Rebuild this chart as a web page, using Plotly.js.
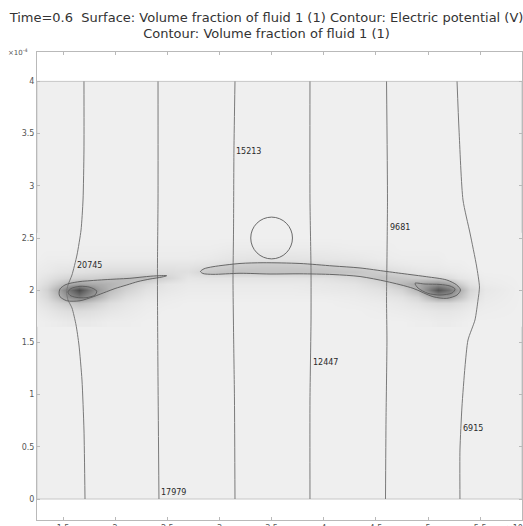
<!DOCTYPE html>
<html>
<head>
<meta charset="utf-8">
<script src="https://cdn.plot.ly/plotly-3.0.1.min.js"></script>
<style>
  html, body { margin: 0; padding: 0; background: #ffffff; }
  #chart { width: 523px; height: 526px; }
</style>
</head>
<body>
<div id="chart"></div>
<script>
// ---- Domain of the model (x10^-4 m) ----
const domainX = [1.25, 5.9008];
const domainY = [0, 4];

// ---- Surface: volume fraction of fluid 1 (coarse grid, 0..1) ----
const vfGridX = [1.25, 1.35, 1.45, 1.55, 1.65, 1.75, 1.85, 1.95, 2.1, 2.3, 2.5, 2.7, 2.9, 3.1,
                 3.4, 3.7, 4.0, 4.3, 4.55, 4.75, 4.9, 5.0, 5.1, 5.2, 5.3, 5.4, 5.55, 5.9];
const vfGridY = [1.7, 1.8, 1.88, 1.94, 2.0, 2.06, 2.12, 2.18, 2.24, 2.3, 2.4, 2.5];
const vfSurface = [
  [0,0.01,0.02,0.03,0.03,0.03,0.02,0.01,0.01,0,0,0,0,0,0,0,0,0,0,0,0.01,0.01,0.02,0.02,0.01,0,0,0],
  [0.02,0.04,0.07,0.09,0.1,0.09,0.07,0.05,0.03,0.01,0,0,0,0,0,0,0,0,0.01,0.02,0.03,0.04,0.05,0.05,0.04,0.02,0.01,0],
  [0.04,0.08,0.14,0.2,0.24,0.2,0.14,0.09,0.05,0.02,0.01,0,0,0,0,0,0,0.01,0.02,0.04,0.07,0.1,0.12,0.12,0.09,0.05,0.02,0],
  [0.06,0.12,0.26,0.45,0.6,0.45,0.3,0.18,0.09,0.04,0.02,0.01,0.01,0.01,0.01,0.01,0.01,0.02,0.04,0.07,0.14,0.28,0.42,0.4,0.25,0.1,0.03,0],
  [0.07,0.15,0.34,0.6,0.88,0.62,0.38,0.26,0.15,0.07,0.04,0.02,0.02,0.02,0.02,0.02,0.03,0.04,0.07,0.14,0.3,0.55,0.82,0.65,0.35,0.13,0.04,0],
  [0.05,0.1,0.2,0.3,0.36,0.33,0.3,0.26,0.2,0.11,0.05,0.03,0.03,0.03,0.03,0.03,0.04,0.06,0.12,0.24,0.33,0.4,0.45,0.35,0.18,0.07,0.02,0],
  [0.03,0.06,0.1,0.13,0.15,0.16,0.17,0.19,0.22,0.22,0.14,0.05,0.06,0.06,0.06,0.06,0.07,0.11,0.18,0.15,0.12,0.12,0.11,0.09,0.05,0.03,0.01,0],
  [0.02,0.03,0.05,0.06,0.07,0.08,0.09,0.1,0.1,0.1,0.09,0.08,0.15,0.18,0.18,0.18,0.18,0.16,0.11,0.07,0.05,0.04,0.04,0.03,0.02,0.01,0,0],
  [0.01,0.02,0.03,0.03,0.04,0.04,0.04,0.05,0.05,0.05,0.05,0.05,0.07,0.11,0.13,0.13,0.12,0.09,0.05,0.03,0.02,0.02,0.02,0.01,0.01,0,0,0],
  [0,0.01,0.01,0.01,0.02,0.02,0.02,0.02,0.02,0.02,0.02,0.02,0.03,0.05,0.06,0.06,0.05,0.04,0.02,0.01,0.01,0.01,0.01,0,0,0,0,0],
  [0,0,0,0,0.01,0.01,0.01,0.01,0.01,0.01,0.01,0.01,0.01,0.02,0.02,0.02,0.02,0.01,0.01,0,0,0,0,0,0,0,0,0],
  [0,0,0,0,0,0,0,0,0,0,0,0,0,0,0,0,0,0,0,0,0,0,0,0,0,0,0,0]
];

// ---- Contour: volume fraction of fluid 1 ----
const dropCenter = [3.5, 2.5];
const dropRadius = 0.2;

const leftOuterX = [1.462,1.471,1.519,1.567,1.663,1.759,1.903,2.015,2.142,2.238,2.366,2.494,2.449,2.334,2.219,2.111,1.999,1.919,1.791,1.663,1.536,1.471,1.462];
const leftOuterY = [1.970,2.012,2.050,2.066,2.083,2.091,2.101,2.107,2.114,2.124,2.136,2.139,2.126,2.107,2.083,2.050,2.016,1.986,1.938,1.899,1.899,1.938,1.970];
const leftInnerX = [1.548,1.577,1.663,1.759,1.823,1.807,1.721,1.625,1.567,1.548];
const leftInnerY = [1.983,2.016,2.037,2.028,1.992,1.954,1.928,1.932,1.951,1.983];

const rightOuterX = [2.818,2.852,2.938,3.197,3.418,3.772,4.089,4.348,4.604,4.827,4.987,5.179,5.275,5.311,5.278,5.179,5.047,4.856,4.604,4.348,4.089,3.772,3.485,3.197,2.938,2.842,2.818];
const rightOuterY = [2.179,2.205,2.225,2.256,2.263,2.256,2.232,2.213,2.179,2.150,2.129,2.098,2.050,2.002,1.954,1.922,1.938,2.018,2.083,2.131,2.150,2.157,2.155,2.162,2.152,2.160,2.179];
const rightInnerX = [4.875,4.971,5.115,5.211,5.259,5.230,5.115,4.999,4.904,4.875];
const rightInnerY = [2.066,2.059,2.055,2.040,2.011,1.973,1.954,1.970,2.021,2.066];

// ---- Contour: electric potential (V) ----
const potLevels = [20745, 17979, 15213, 12447, 9681, 6915];
const potX = [
  [1.701,1.701,1.692,1.673,1.634,1.586,1.548,1.534,1.548,1.586,1.625,1.653,1.682,1.701,1.711],
  [2.411,2.411,2.406,2.406,2.411,2.420],
  [3.149,3.139,3.135,3.130,3.135,3.144,3.149],
  [3.868,3.868,3.878,3.878,3.868,3.868],
  [4.602,4.611,4.606,4.602,4.606,4.597,4.592],
  [5.278,5.297,5.335,5.402,5.465,5.493,5.479,5.450,5.383,5.354,5.325,5.306,5.306]
];
const potY = [
  [4.0,3.343,2.864,2.577,2.337,2.146,2.050,1.983,1.906,1.830,1.667,1.475,1.140,0.661,0],
  [4.0,2.864,2.289,1.906,1.140,0],
  [4.0,3.343,2.577,2.098,1.619,0.948,0],
  [4.0,2.864,2.193,1.715,0.948,0],
  [4.0,2.864,2.289,1.906,1.523,0.757,0],
  [4.0,3.534,2.864,2.548,2.232,2.031,1.906,1.715,1.523,1.264,0.881,0.469,0]
];
// where each level's label sits along its line
const potLabelX = [1.615, 2.420, 3.139, 3.878, 4.616, 5.316];
const potLabelY = [2.232, 0.067, 3.333, 1.303, 2.605, 0.680];

// ---- Axis ticks ----
const xTicks = [1.5, 2, 2.5, 3, 3.5, 4, 4.5, 5, 5.5];
const yTicks = [0, 0.5, 1, 1.5, 2, 2.5, 3, 3.5, 4];

const FONT = 'DejaVu Sans, Verdana, sans-serif';
const frameCol = '#b9b9b9';
const potCol = '#7a7a7a';
const vfCol = '#5a5a5a';

const traces = [];

traces.push({
  type: 'heatmap',
  x: vfGridX, y: vfGridY, z: vfSurface,
  zmin: 0, zmax: 1, zsmooth: 'best',
  colorscale: [[0, 'rgb(239,239,239)'], [1, 'rgb(48,48,48)']],
  showscale: false, hoverinfo: 'skip'
});

potX.forEach((xs, i) => {
  traces.push({
    type: 'scatter', mode: 'lines', x: xs, y: potY[i],
    line: { color: potCol, width: 1, shape: 'spline', smoothing: 0.6 },
    hoverinfo: 'skip', showlegend: false
  });
});

[[leftOuterX, leftOuterY, true], [leftInnerX, leftInnerY, false],
 [rightOuterX, rightOuterY, true], [rightInnerX, rightInnerY, false]].forEach(([xs, ys, filled]) => {
  traces.push({
    type: 'scatter', mode: 'lines', x: xs, y: ys,
    fill: filled ? 'toself' : 'none',
    fillcolor: 'rgba(110,110,110,0.10)',
    line: { color: vfCol, width: 0.9, shape: 'spline', smoothing: 0.8 },
    hoverinfo: 'skip', showlegend: false
  });
});

const annotations = potLevels.map((lev, i) => ({
  xref: 'x', yref: 'y', x: potLabelX[i], y: potLabelY[i],
  text: String(lev), showarrow: false, xanchor: 'left', yanchor: 'middle',
  font: { family: FONT, size: 8, color: '#2a2a2a' }
}));
annotations.push({
  xref: 'paper', yref: 'paper', x: -0.064, y: 1.0, xanchor: 'left', yanchor: 'middle',
  text: '×10<sup>-4</sup>', showarrow: false,
  font: { family: FONT, size: 7, color: '#555' }
});
annotations.push({
  xref: 'paper', yref: 'paper', x: 0.962, y: -0.002, xanchor: 'left', yanchor: 'top',
  text: '×10<sup>-4</sup>', showarrow: false,
  font: { family: FONT, size: 8, color: '#555' }
});

const axisCommon = {
  showgrid: false, zeroline: false, showline: true, linecolor: frameCol, linewidth: 1,
  mirror: 'ticks', ticks: 'inside', ticklen: 3, tickcolor: frameCol, tickwidth: 1,
  tickfont: { family: FONT, size: 8, color: '#555' }, fixedrange: true
};

const layout = {
  width: 523, height: 526,
  margin: { l: 37, r: 1, t: 52, b: 6, pad: 0 },
  paper_bgcolor: '#ffffff', plot_bgcolor: '#ffffff',
  showlegend: false,
  title: {
    text: 'Time=0.6\u00a0 Surface: Volume fraction of fluid 1 (1) Contour: Electric potential (V)<br>Contour: Volume fraction of fluid 1 (1)',
    font: { family: FONT, size: 13, color: '#333' },
    xref: 'container', x: 0.5096, xanchor: 'center',
    yref: 'container', y: 0.959, yanchor: 'top'
  },
  xaxis: Object.assign({}, axisCommon, {
    range: [1.2507, 5.9008], tickvals: xTicks, ticktext: xTicks.map(String)
  }),
  yaxis: Object.assign({}, axisCommon, {
    range: [-0.2011, 4.2816], tickvals: yTicks, ticktext: yTicks.map(String)
  }),
  shapes: [
    {
      type: 'rect', xref: 'x', yref: 'y', layer: 'below',
      x0: domainX[0], x1: domainX[1], y0: domainY[0], y1: domainY[1],
      fillcolor: '#efefef', line: { color: '#c6c6c6', width: 1 }
    },
    {
      type: 'circle', xref: 'x', yref: 'y', layer: 'above',
      x0: dropCenter[0] - dropRadius, x1: dropCenter[0] + dropRadius,
      y0: dropCenter[1] - dropRadius, y1: dropCenter[1] + dropRadius,
      line: { color: vfCol, width: 0.9 }
    }
  ],
  annotations: annotations
};

Plotly.newPlot('chart', traces, layout, { staticPlot: true, displayModeBar: false });
</script>
</body>
</html>
